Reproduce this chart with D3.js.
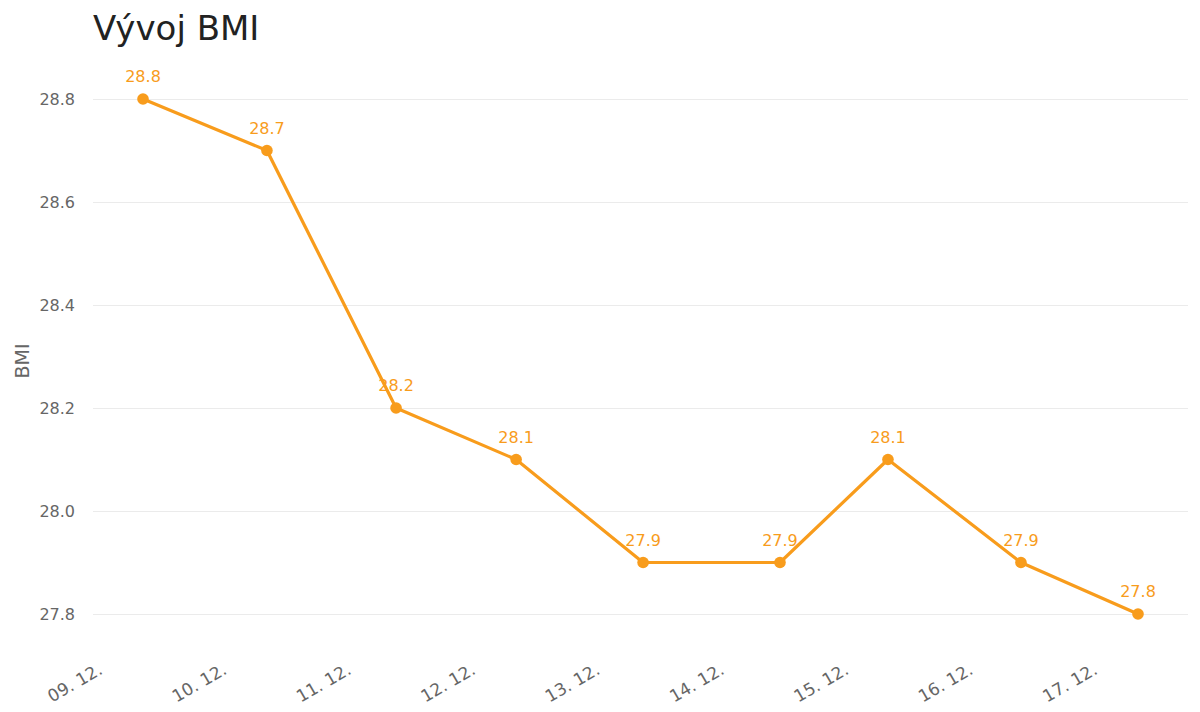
<!DOCTYPE html>
<html>
<head>
<meta charset="utf-8">
<script src="https://cdn.jsdelivr.net/npm/d3@7"></script>
<style>
  body { margin: 0; background: #fff; }
  svg { display: block; font-family: "DejaVu Sans", sans-serif; }
</style>
</head>
<body>
<svg id="chart" width="1200" height="712"></svg>
<script>
const dates = ["2024-12-09T07:30", "2024-12-10T07:25", "2024-12-11T08:20", "2024-12-12T07:30",
               "2024-12-13T08:00", "2024-12-14T10:25", "2024-12-15T07:15", "2024-12-16T08:55",
               "2024-12-17T07:30"];
const bmiValues = [28.8, 28.7, 28.2, 28.1, 27.9, 27.9, 28.1, 27.9, 27.8];
const yTicks = [27.8, 28.0, 28.2, 28.4, 28.6, 28.8];
const xTickDays = ["2024-12-09", "2024-12-10", "2024-12-11", "2024-12-12", "2024-12-13",
                   "2024-12-14", "2024-12-15", "2024-12-16", "2024-12-17"];

const parse = d3.timeParse("%Y-%m-%dT%H:%M");
const parseDay = d3.timeParse("%Y-%m-%d");
const data = dates.map((d, i) => ({ t: parse(d), v: bmiValues[i] }));

const svg = d3.select("#chart");
const plotLeft = 93, plotRight = 1188;
const color = "#f89c1c";

const x = d3.scaleTime()
  .domain(d3.extent(data, d => d.t))
  .range([143, 1138]);
const y = d3.scaleLinear()
  .domain([27.8, 28.8])
  .range([614, 99]);

// Title
svg.append("text")
  .attr("x", 93).attr("y", 40)
  .attr("font-size", 34).attr("fill", "#222")
  .text("Vývoj BMI");

// Grid + y labels
const yAxis = d3.axisLeft(y).tickValues(yTicks).tickFormat(d3.format(".1f"))
  .tickSize(-(plotRight - plotLeft)).tickPadding(18);
const gy = svg.append("g").attr("transform", `translate(${plotLeft},0)`).call(yAxis);
gy.select(".domain").remove();
gy.selectAll(".tick line").attr("stroke", "#ebebeb").attr("stroke-width", 1);
gy.selectAll(".tick text").attr("font-size", 16).attr("fill", "#666")
  .attr("font-family", "DejaVu Sans, sans-serif");

// Y title
svg.append("text")
  .attr("transform", "translate(29,361) rotate(-90)")
  .attr("text-anchor", "middle")
  .attr("font-size", 19).attr("fill", "#666")
  .text("BMI");

// X axis labels
const xAxis = d3.axisBottom(x)
  .tickValues(xTickDays.map(parseDay))
  .tickFormat(d3.timeFormat("%d. %m."))
  .tickSize(0).tickPadding(0);
const gx = svg.append("g").attr("transform", "translate(0,652)").call(xAxis);
gx.select(".domain").remove();
gx.selectAll(".tick text")
  .attr("font-size", 17).attr("fill", "#666")
  .attr("font-family", "DejaVu Sans, sans-serif")
  .attr("text-anchor", "end")
  .attr("dy", null)
  .attr("y", 0)
  .attr("transform", "translate(-1,21) rotate(-30)");

// Line
const line = d3.line().x(d => x(d.t)).y(d => y(d.v));
svg.append("path").datum(data)
  .attr("fill", "none").attr("stroke", color)
  .attr("stroke-width", 3.2).attr("stroke-linejoin", "round")
  .attr("d", line);

// Points
svg.append("g").selectAll("circle").data(data).join("circle")
  .attr("cx", d => x(d.t)).attr("cy", d => y(d.v))
  .attr("r", 5.8).attr("fill", color);

// Data labels
svg.append("g").selectAll("text").data(data).join("text")
  .attr("x", d => x(d.t)).attr("y", d => y(d.v) - 17)
  .attr("text-anchor", "middle")
  .attr("font-size", 16).attr("fill", color)
  .text(d => d3.format(".1f")(d.v));
</script>
</body>
</html>
